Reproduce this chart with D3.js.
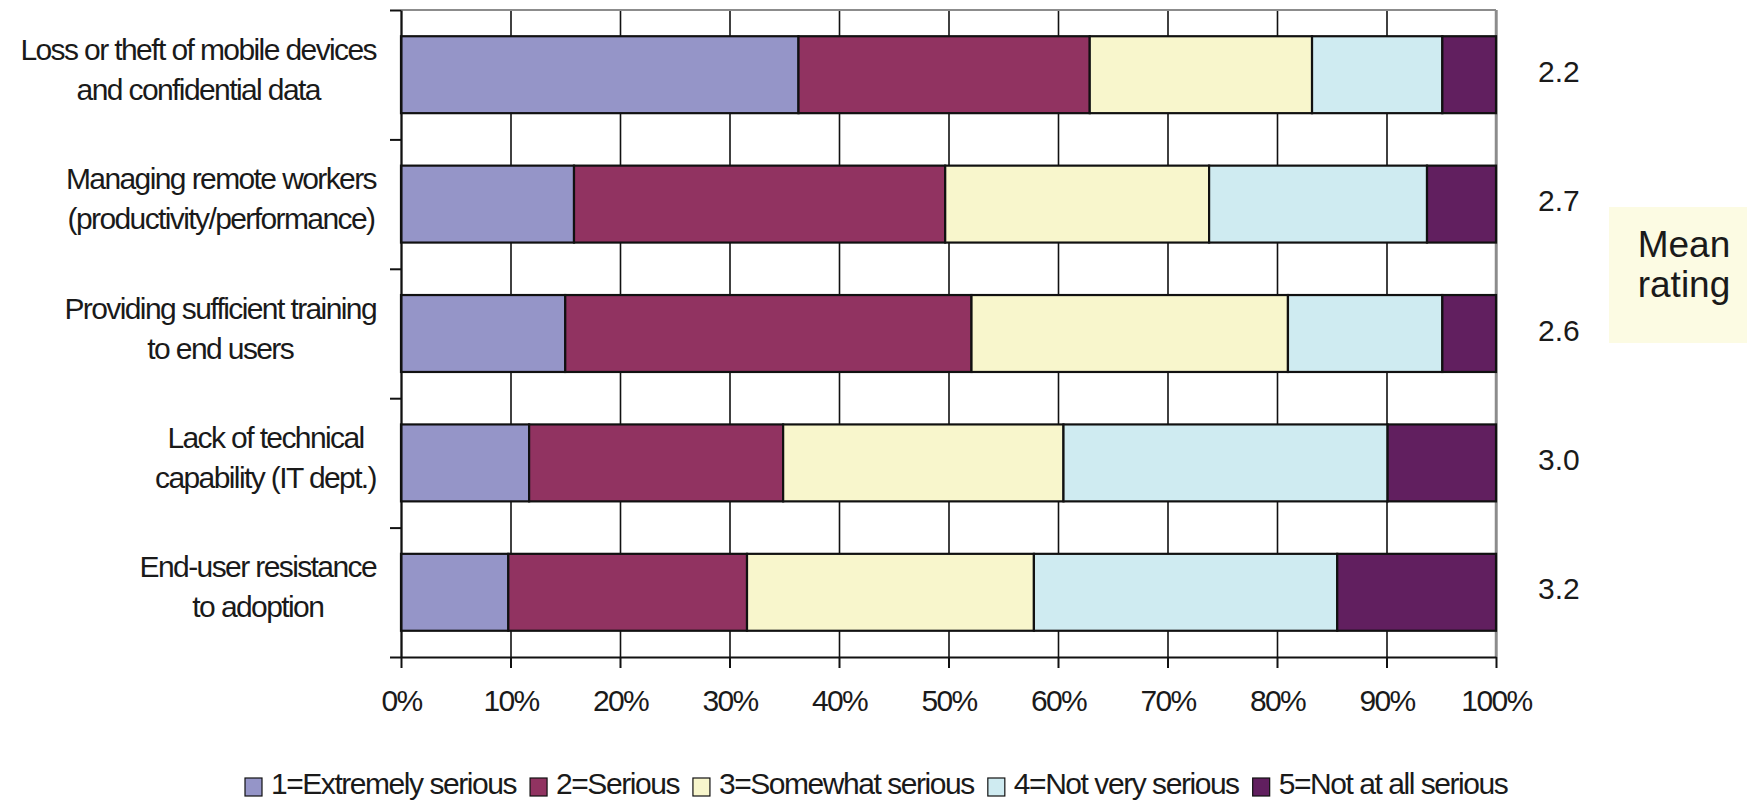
<!DOCTYPE html>
<html>
<head>
<meta charset="utf-8">
<script src="https://cdn.jsdelivr.net/npm/d3@7"></script>
<style>
    body { margin: 0; background: #fff; }
    svg text { font-family: "Liberation Sans", Arial, sans-serif; fill: #1a1a1a; }
</style>
</head>
<body>
<svg id="chart" width="1747" height="802"></svg>
<script>
// categories, each one split in the two lines shown on the chart
var categories = [
    ["Loss or theft of mobile devices", "and confidential data"],
    ["Managing remote workers", "(productivity/performance)"],
    ["Providing sufficient training", "to end users"],
    ["Lack of technical", "capability (IT dept.)"],
    ["End-user resistance", "to adoption"]
];

var seriesNames = ["1=Extremely serious", "2=Serious", "3=Somewhat serious", "4=Not very serious", "5=Not at all serious"];
var seriesColors = ["#9595c8", "#913361", "#f8f6cc", "#cfebf1", "#611f5f"];

// percent of respondents
var extremelySerious = [36.3, 15.8, 15.0, 11.7, 9.8];
var serious          = [26.6, 33.9, 37.1, 23.2, 21.8];
var somewhatSerious  = [20.3, 24.1, 28.9, 25.6, 26.2];
var notVerySerious   = [11.9, 19.9, 14.1, 29.6, 27.7];
var notAtAllSerious  = [4.9, 6.3, 4.9, 9.9, 14.5];

var meanRatings = ["2.2", "2.7", "2.6", "3.0", "3.2"];
var xTicks = [0, 10, 20, 30, 40, 50, 60, 70, 80, 90, 100];

var seriesValues = [extremelySerious, serious, somewhatSerious, notVerySerious, notAtAllSerious];

var rows = categories.map(function(c, i) {
    var row = {index: i};
    seriesNames.forEach(function(s, j) { row[s] = seriesValues[j][i]; });
    return row;
});

var plotLeft = 401, plotRight = 1496, plotTop = 10, plotBottom = 657;

var xScale = d3.scaleLinear().domain([0, 100]).range([plotLeft, plotRight]);
var yScale = d3.scaleBand()
    .domain(d3.range(categories.length))
    .range([plotTop, plotBottom])
    .paddingInner(0.39)
    .paddingOuter(0.195);
var yEdges = d3.scaleLinear().domain([0, categories.length]).range([plotTop, plotBottom]);

var svg = d3.select("#chart");

// vertical gridlines
svg.append("g")
    .attr("class", "x grid")
    .attr("transform", "translate(0," + plotBottom + ")")
    .call(d3.axisBottom(xScale).tickValues(xTicks).tickSize(-(plotBottom - plotTop)).tickFormat(""))
    .call(function(g) {
        g.select(".domain").remove();
        g.selectAll("line").attr("stroke", "#111").attr("stroke-width", 1.6);
    });

// top and right border of plot area
svg.append("line")
    .attr("x1", plotLeft).attr("x2", plotRight)
    .attr("y1", plotTop).attr("y2", plotTop)
    .attr("stroke", "#8c8c8c").attr("stroke-width", 2);
svg.append("line")
    .attr("x1", plotRight).attr("x2", plotRight)
    .attr("y1", plotTop).attr("y2", plotBottom)
    .attr("stroke", "#8c8c8c").attr("stroke-width", 2.5);

// stacked bars
var stacked = d3.stack().keys(seriesNames)(rows);

svg.append("g")
    .attr("class", "content")
    .selectAll("g")
    .data(stacked)
    .enter()
    .append("g")
    .attr("fill", function(d, i) { return seriesColors[i]; })
    .selectAll("rect")
    .data(function(d) { return d; })
    .enter()
    .append("rect")
    .attr("x", function(d) { return xScale(d[0]); })
    .attr("y", function(d) { return yScale(d.data.index) + 1; })
    .attr("width", function(d) { return xScale(d[1]) - xScale(d[0]); })
    .attr("height", yScale.bandwidth() - 2)
    .attr("stroke", "#111")
    .attr("stroke-width", 2.2);

// left axis with ticks between categories
svg.append("g")
    .attr("class", "y axis")
    .attr("transform", "translate(" + plotLeft + ",0)")
    .call(d3.axisLeft(yEdges).tickValues(d3.range(categories.length + 1)).tickSize(11).tickSizeOuter(0).tickFormat(""))
    .call(function(g) {
        g.selectAll("line, path").attr("stroke", "#111").attr("stroke-width", 2);
    });

// bottom axis
svg.append("g")
    .attr("class", "x axis")
    .attr("transform", "translate(0," + plotBottom + ")")
    .call(d3.axisBottom(xScale).tickValues(xTicks).tickSize(11).tickSizeOuter(0).tickPadding(22)
        .tickFormat(function(d) { return d + "%"; }))
    .call(function(g) {
        g.selectAll("line, path").attr("stroke", "#111").attr("stroke-width", 2);
        g.selectAll("text")
            .attr("font-family", null)
            .style("font-size", "30px")
            .style("letter-spacing", "-1.6px")
            .attr("fill", "#1a1a1a");
        g.attr("font-family", null).attr("font-size", null);
    });

// category labels: lines centred, block right aligned
var labelRight = 376;
var labels = svg.append("g").attr("class", "labels");
categories.forEach(function(lines, i) {
    var t = labels.append("text")
        .style("font-size", "30px")
        .style("letter-spacing", "-1.6px")
        .attr("text-anchor", "middle");
    lines.forEach(function(line, k) {
        t.append("tspan")
            .attr("y", yScale(i) + yScale.bandwidth() / 2 + (k === 0 ? -15 : 25))
            .text(line);
    });
    var w = d3.max(t.selectAll("tspan").nodes(), function(n) { return n.getComputedTextLength(); });
    t.selectAll("tspan").attr("x", labelRight - w / 2);
});

// mean ratings
svg.append("g")
    .selectAll("text")
    .data(meanRatings)
    .enter()
    .append("text")
    .attr("x", 1538)
    .attr("y", function(d, i) { return yScale(i) + yScale.bandwidth() / 2 + 7; })
    .style("font-size", "30px")
    .text(function(d) { return d; });

var meanBox = svg.append("g");
meanBox.append("rect")
    .attr("x", 1609).attr("y", 207)
    .attr("width", 138).attr("height", 136)
    .attr("fill", "#fcfbe3");
meanBox.append("text")
    .attr("x", 1684).attr("y", 257)
    .attr("text-anchor", "middle")
    .style("font-size", "37px")
    .text("Mean");
meanBox.append("text")
    .attr("x", 1684).attr("y", 297)
    .attr("text-anchor", "middle")
    .style("font-size", "37px")
    .text("rating");

// legend
var legend = svg.append("g").attr("class", "legend");
var lx = 245;
seriesNames.forEach(function(name, i) {
    legend.append("rect")
        .attr("x", lx).attr("y", 778)
        .attr("width", 17).attr("height", 18)
        .attr("fill", seriesColors[i])
        .attr("stroke", "#111")
        .attr("stroke-width", 1.2);
    var t = legend.append("text")
        .attr("x", lx + 26).attr("y", 794)
        .style("font-size", "30px")
        .style("letter-spacing", "-1.45px")
        .text(name);
    lx += 26 + t.node().getComputedTextLength() + 14;
});
</script>
</body>
</html>
